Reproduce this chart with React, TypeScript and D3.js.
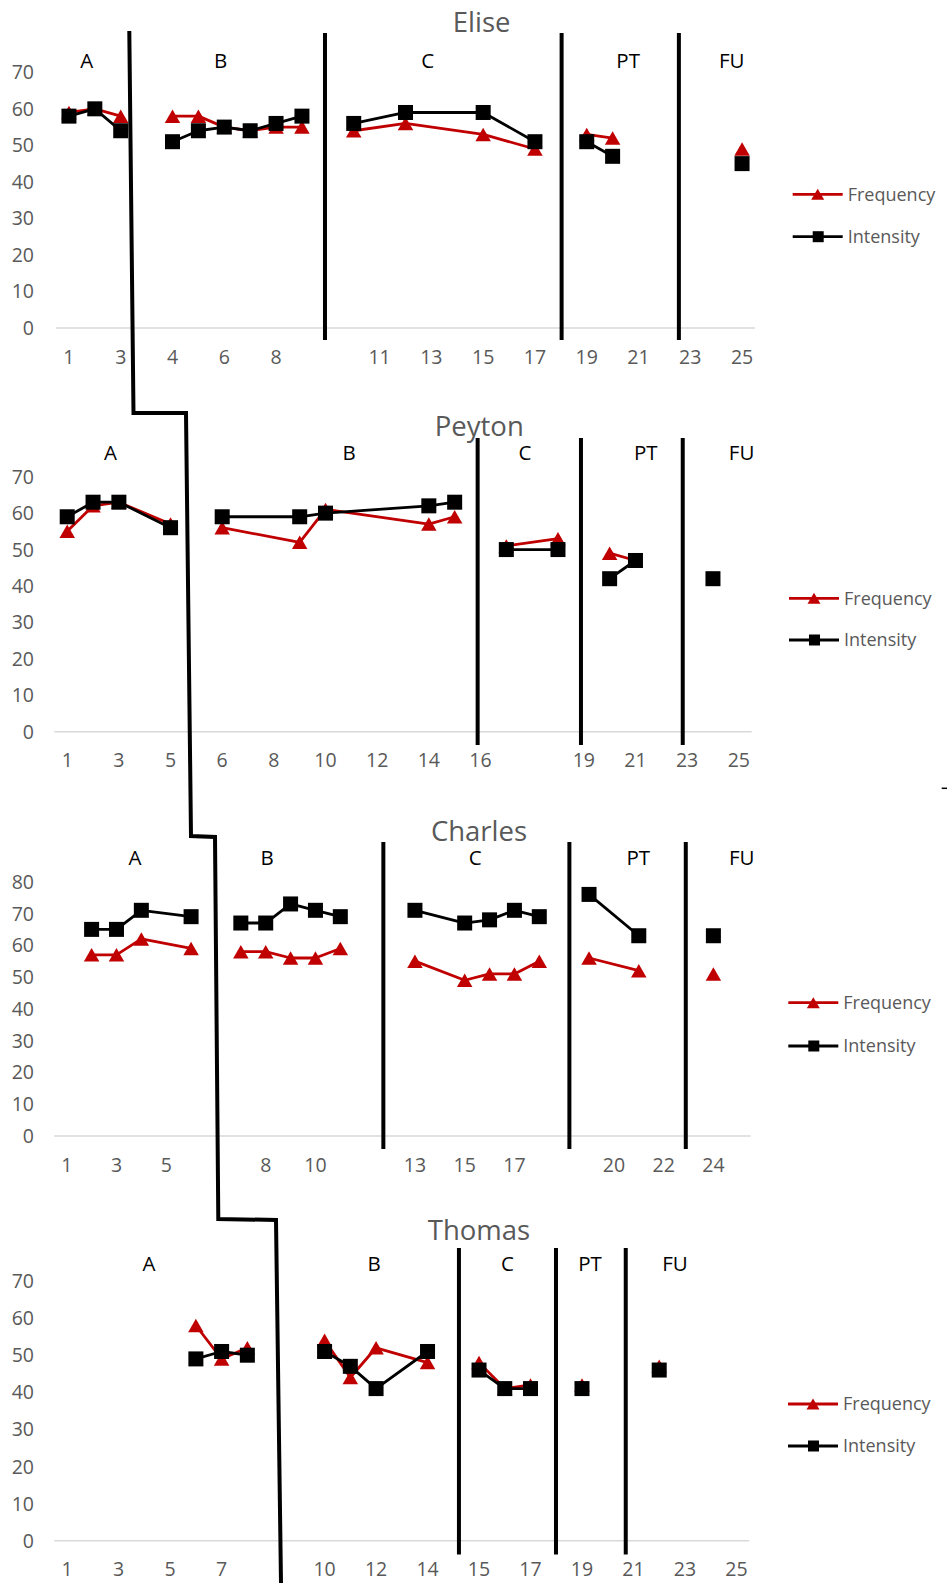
import React from 'react';
import * as d3 from 'd3';

// ---------- DATA ----------
const eliseLabels = ["1","2","3","","4","5","6","7","8","9","","10","11","12","13","14","15","16","17","18","19","20","21","22","23","24","25"];
const eliseFrequency = [59,60,58,null,58,58,55,54,55,55,null,54,null,56,null,null,53,null,49,null,53,52,null,null,null,null,49];
const eliseIntensity = [58,60,54,null,51,54,55,54,56,58,null,56,null,59,null,null,59,null,51,null,51,47,null,null,null,null,45];
const elisePhases = [[0,2],[4,9],[11,18],[20,21],[26,26]];

const peytonLabels = ["1","2","3","4","5","","6","7","8","9","10","11","12","13","14","15","16","17","","18","19","20","21","22","23","24","25"];
const peytonFrequency = [55,62,63,null,57,null,56,null,null,52,61,null,null,null,57,59,null,51,null,53,null,49,47,null,null,null,null];
const peytonIntensity = [59,63,63,null,56,null,59,null,null,59,60,null,null,null,62,63,null,50,null,50,null,42,47,null,null,42,null];
const peytonPhases = [[0,4],[6,15],[17,19],[21,22],[25,25]];

const charlesLabels = ["1","2","3","4","5","6","","7","8","9","10","11","","12","13","14","15","16","17","18","","19","20","21","22","23","24","25"];
const charlesFrequency = [null,57,57,62,null,59,null,58,58,56,56,59,null,null,55,null,49,51,51,55,null,56,null,52,null,null,51,null];
const charlesIntensity = [null,65,65,71,null,69,null,67,67,73,71,69,null,null,71,null,67,68,71,69,null,76,null,63,null,null,63,null];
const charlesPhases = [[0,5],[7,11],[13,19],[21,23],[24,27]];

const thomasLabels = ["1","2","3","4","5","6","7","8","","9","10","11","12","13","14","","15","16","17","18","19","20","21","22","23","24","25"];
const thomasFrequency = [null,null,null,null,null,58,49,52,null,null,54,44,52,null,48,null,48,41,42,null,42,null,null,47,null,null,null];
const thomasIntensity = [null,null,null,null,null,49,51,50,null,null,51,47,41,null,51,null,46,41,41,null,41,null,null,46,null,null,null];
const thomasPhases = [[0,7],[9,14],[16,18],[19,21],[22,26]];

const phaseNames = ["A","B","C","PT","FU"];
const seriesNames = ["Frequency","Intensity"];

// ---------- LAYOUT ----------
const RED = "#C00000";
const GRAY = "#595959";
const FONT = "'Open Sans', sans-serif";

type PanelCfg = {
  name: string; labels: string[]; freq: (number|null)[]; inten: (number|null)[]; phases: number[][];
  yMax: number; top: number; bottom: number; left: number; right: number;
  titleX: number; titleY: number; phaseLabelY: number; phaseLabelIdx: number[];
  dividerIdx: number[]; dividerTop: number; dividerBottom: number;
  legendY1: number; legendY2: number; legendX1: number;
};

const panels: PanelCfg[] = [
  { name: "Elise", labels: eliseLabels, freq: eliseFrequency, inten: eliseIntensity, phases: elisePhases,
    yMax: 70, top: 72.3, bottom: 328, left: 56, right: 755, titleX: 481.7, titleY: 32, phaseLabelY: 68,
    phaseLabelIdx: [0.69, 5.86, 13.86, 21.6, 25.6], dividerIdx: [9.89, 19.03, 23.56], dividerTop: 33, dividerBottom: 340,
    legendY1: 194.3, legendY2: 236.7, legendX1: 792.7 },
  { name: "Peyton", labels: peytonLabels, freq: peytonFrequency, inten: peytonIntensity, phases: peytonPhases,
    yMax: 70, top: 476.7, bottom: 731.7, left: 54.3, right: 751.7, titleX: 479.3, titleY: 436, phaseLabelY: 460,
    phaseLabelIdx: [1.68, 10.91, 17.72, 22.4, 26.11], dividerIdx: [15.89, 19.89, 23.83], dividerTop: 438, dividerBottom: 745,
    legendY1: 598.3, legendY2: 640, legendX1: 789 },
  { name: "Charles", labels: charlesLabels, freq: charlesFrequency, inten: charlesIntensity, phases: charlesPhases,
    yMax: 80, top: 881.7, bottom: 1136, left: 54.3, right: 750.7, titleX: 479, titleY: 840.7, phaseLabelY: 865,
    phaseLabelIdx: [2.74, 8.06, 16.42, 22.98, 27.14], dividerIdx: [12.73, 20.21, 24.89], dividerTop: 842, dividerBottom: 1149,
    legendY1: 1002.7, legendY2: 1046, legendX1: 788.3 },
  { name: "Thomas", labels: thomasLabels, freq: thomasFrequency, inten: thomasIntensity, phases: thomasPhases,
    yMax: 70, top: 1281, bottom: 1540.7, left: 54.3, right: 749.3, titleX: 479, titleY: 1240, phaseLabelY: 1271,
    phaseLabelIdx: [3.18, 11.92, 17.1, 20.31, 23.61], dividerIdx: [15.22, 18.99, 21.7], dividerTop: 1248, dividerBottom: 1554.5,
    legendY1: 1404, legendY2: 1446, legendX1: 788 },
];

const staircase: [number, number][] = [[129.3,31],[133.5,413],[186,413],[191,836],[215,837],[218.3,1219],[276,1220],[281,1583]];

const triPath = (x: number, y: number, w: number, h: number) =>
  `M${x - w / 2},${y + h / 2}L${x + w / 2},${y + h / 2}L${x},${y - h / 2}Z`;

function Panel({ p }: { p: PanelCfg }) {
  const n = p.labels.length;
  const x = d3.scaleLinear().domain([-0.5, n - 0.5]).range([p.left, p.right]);
  const y = d3.scaleLinear().domain([0, p.yMax]).range([p.bottom, p.top]);
  const yTicks = d3.range(0, p.yMax + 1, 10);
  const line = d3.line<[number, number]>().x(d => x(d[0])).y(d => y(d[1]));

  const segs = (vals: (number|null)[]) =>
    p.phases.map(([a, b]) => {
      const pts: [number, number][] = [];
      for (let i = a; i <= b; i++) if (vals[i] != null) pts.push([i, vals[i] as number]);
      return pts;
    });

  const fSegs = segs(p.freq);
  const iSegs = segs(p.inten);
  const lx = p.legendX1;

  return (
    <g>
      <text x={p.titleX} y={p.titleY} textAnchor="middle" fontFamily={FONT} fontSize={27.5} fill={GRAY}>{p.name}</text>
      <line x1={p.left} x2={p.right} y1={y(0)} y2={y(0)} stroke="#d9d9d9" strokeWidth={1.5} />
      {yTicks.map(t => (
        <text key={t} x={34} y={y(t)} dy="0.36em" textAnchor="end" fontFamily={FONT} fontSize={19.5} fill={GRAY}>{t}</text>
      ))}
      {p.labels.map((l, i) => (i % 2 === 0 && l !== "" ?
        <text key={i} x={x(i)} y={p.bottom + 35.5} textAnchor="middle" fontFamily={FONT} fontSize={19.5} fill={GRAY}>{l}</text> : null))}
      {p.dividerIdx.map((d, i) => (
        <line key={i} x1={x(d)} x2={x(d)} y1={p.dividerTop} y2={p.dividerBottom} stroke="#000" strokeWidth={4} />
      ))}
      {p.phaseLabelIdx.map((d, i) => (
        <text key={i} x={x(d)} y={p.phaseLabelY} textAnchor="middle" fontFamily={FONT} fontSize={20.5} fill="#000">{phaseNames[i]}</text>
      ))}
      {fSegs.map((s, i) => s.length > 1 ? <path key={i} d={line(s) || ""} fill="none" stroke={RED} strokeWidth={2.8} strokeLinejoin="round" /> : null)}
      {fSegs.flat().map((d, i) => <path key={i} d={triPath(x(d[0]), y(d[1]), 15.5, 13.5)} fill={RED} />)}
      {iSegs.map((s, i) => s.length > 1 ? <path key={i} d={line(s) || ""} fill="none" stroke="#000" strokeWidth={2.8} strokeLinejoin="round" /> : null)}
      {iSegs.flat().map((d, i) => <rect key={i} x={x(d[0]) - 7.5} y={y(d[1]) - 7.5} width={15} height={15} fill="#000" />)}
      {/* legend */}
      <line x1={lx} x2={lx + 50} y1={p.legendY1} y2={p.legendY1} stroke={RED} strokeWidth={2.8} />
      <path d={triPath(lx + 25, p.legendY1, 13, 11)} fill={RED} />
      <text x={lx + 55} y={p.legendY1} dy="0.36em" fontFamily={FONT} fontSize={18} fill={GRAY}>{seriesNames[0]}</text>
      <line x1={lx} x2={lx + 50} y1={p.legendY2} y2={p.legendY2} stroke="#000" strokeWidth={2.8} />
      <rect x={lx + 20} y={p.legendY2 - 5.5} width={11} height={11} fill="#000" />
      <text x={lx + 55} y={p.legendY2} dy="0.36em" fontFamily={FONT} fontSize={18} fill={GRAY}>{seriesNames[1]}</text>
    </g>
  );
}

export default function App() {
  const stair = d3.line()(staircase) || "";
  return (
    <svg width={947} height={1583} style={{ position: "absolute", left: 0, top: 0, background: "#fff" }}>
      <rect width={947} height={1583} fill="#fff" />
      {panels.map(p => <Panel key={p.name} p={p} />)}
      <path d={stair} fill="none" stroke="#000" strokeWidth={4} strokeLinejoin="miter" />
      <line x1={941.7} x2={947} y1={788.3} y2={788.3} stroke="#000" strokeWidth={1.5} />
    </svg>
  );
}
